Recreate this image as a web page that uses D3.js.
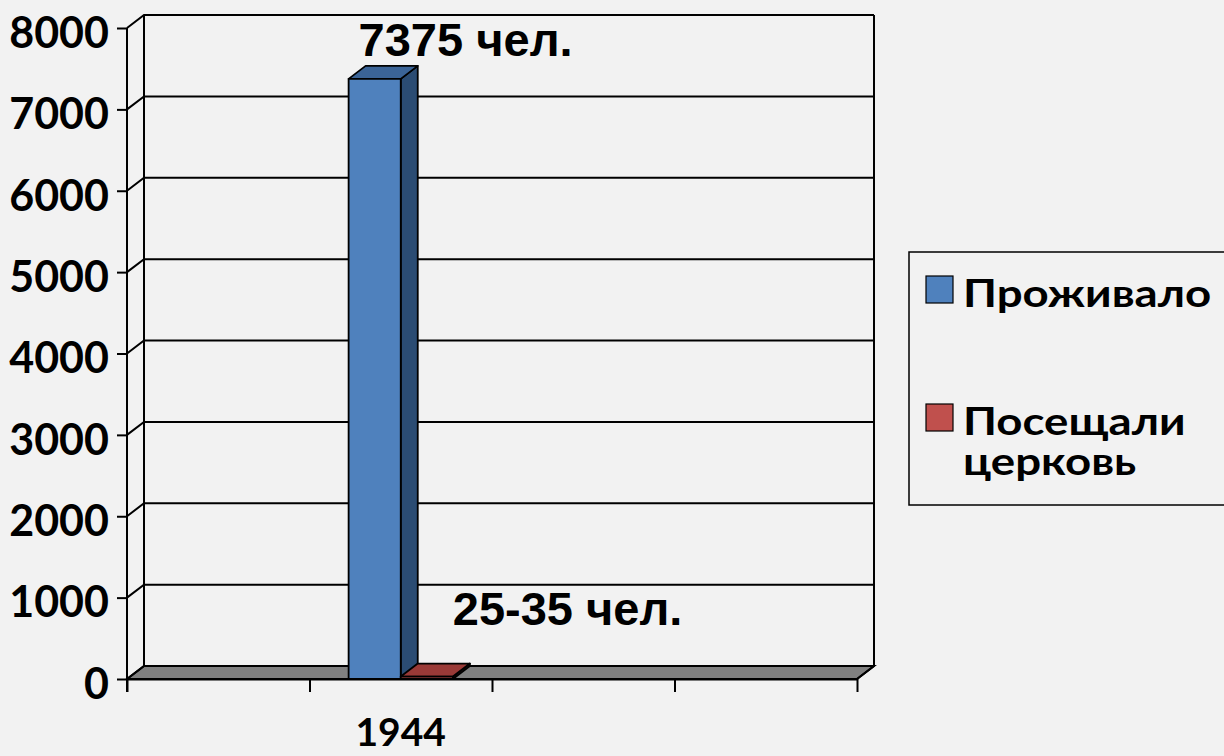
<!DOCTYPE html>
<html>
<head>
<meta charset="utf-8">
<script src="https://cdn.jsdelivr.net/npm/d3@7"></script>
<style>
  body { margin: 0; background: #f2f2f2; }
  svg { display: block; }
</style>
</head>
<body>
<svg width="1224" height="756"></svg>
<script>
// data
const categories = ["", "1944", "", ""];
const series     = ["Проживало", "Посещали церковь"];
const values     = [[null, 7375, null, null], [null, 30, null, null]];
const dataLabels = ["7375 чел.", "25-35 чел."];
const yTicks     = [0, 1000, 2000, 3000, 4000, 5000, 6000, 7000, 8000];

const colors = [
    {front: "#4f81bd", side: "#2b4c73", top: "#3b6497"},
    {front: "#c0504d", side: "#7d2f2d", top: "#9a3a37"}
];

const depthX = 17, depthY = -13;
const plotLeft = 127, plotRight = 857, plotBottom = 679, plotTop = 28;

const svg = d3.select("svg");

const y  = d3.scaleLinear().domain([0, 8000]).range([plotBottom, plotTop]);
const x  = d3.scaleBand().domain(categories.map((c, i) => i)).range([plotLeft, plotRight]);
const xs = d3.scaleBand().domain(series).range([0, x.bandwidth()]).paddingOuter(0.75);
const xEdge = d3.scaleLinear().domain([0, categories.length]).range([plotLeft, plotRight]);

// back wall + floor
const g = svg.append("g");
g.append("polygon")
    .attr("points", [[plotLeft, plotBottom], [plotLeft + depthX, plotBottom + depthY],
                     [plotRight + depthX, plotBottom + depthY], [plotRight, plotBottom]].join(" "))
    .attr("fill", "#808080").attr("stroke", "#000").attr("stroke-width", 2);

// gridlines (diagonal on the side wall, then flat on back wall)
yTicks.forEach(t => {
    const yy = y(t);
    g.append("path")
        .attr("d", `M${plotLeft},${yy}L${plotLeft + depthX},${yy + depthY}` +
                   (t > 0 ? `H${plotRight + depthX}` : ""))
        .attr("fill", "none").attr("stroke", "#000").attr("stroke-width", 2);
});
g.append("path")
    .attr("d", `M${plotLeft + depthX},${y(8000) + depthY}V${plotBottom + depthY}` +
               `M${plotRight + depthX},${y(8000) + depthY}V${plotBottom + depthY}L${plotRight},${plotBottom}`)
    .attr("fill", "none").attr("stroke", "#000").attr("stroke-width", 2);

// bars
series.forEach((s, si) => {
    values[si].forEach((v, ci) => {
        if (v == null) return;
        const x0 = x(ci) + xs(s), x1 = x0 + xs.bandwidth();
        const y0 = plotBottom, y1 = y(v);
        const c = colors[si];
        const bar = svg.append("g").attr("stroke", "#000").attr("stroke-width", 1.8)
            .attr("stroke-linejoin", "round");
        bar.append("polygon")
            .attr("points", [[x1, y1], [x1 + depthX, y1 + depthY], [x1 + depthX, y0 + depthY], [x1, y0]].join(" "))
            .attr("fill", c.side);
        bar.append("polygon")
            .attr("points", [[x0, y1], [x0 + depthX, y1 + depthY], [x1 + depthX, y1 + depthY], [x1, y1]].join(" "))
            .attr("fill", c.top);
        bar.append("rect")
            .attr("x", x0).attr("y", y1).attr("width", x1 - x0).attr("height", y0 - y1)
            .attr("fill", c.front);
    });
});

// axes
const yAxis = svg.append("g")
    .attr("transform", `translate(${plotLeft},0)`)
    .call(d3.axisLeft(y).tickValues(yTicks).tickSize(10).tickSizeOuter(0).tickFormat(d3.format("d")));
yAxis.select(".domain").attr("d", `M0,${plotTop}V${plotBottom + 13}`);
yAxis.selectAll("line, .domain").attr("stroke", "#000").attr("stroke-width", 2);
yAxis.selectAll("text")
    .attr("x", -18).attr("dy", "0.45em")
    .style("font-family", "Lato, 'Open Sans', sans-serif")
    .style("font-weight", "bold").style("font-size", "43px").attr("fill", "#000");

const xAxis = svg.append("g")
    .attr("transform", `translate(0,${plotBottom})`)
    .call(d3.axisBottom(xEdge).tickValues(d3.range(categories.length + 1)).tickSize(13)
        .tickSizeOuter(0).tickFormat(""));
xAxis.selectAll("line, .domain").attr("stroke", "#000").attr("stroke-width", 2);

svg.append("g").selectAll("text")
    .data(categories)
    .join("text")
    .attr("x", (d, i) => x(i) + x.bandwidth() / 2)
    .attr("y", 746)
    .attr("text-anchor", "middle")
    .style("font-family", "Lato, 'Open Sans', sans-serif")
    .style("font-weight", "bold").style("font-size", "39px")
    .text(d => d);

// data labels
const labelOffsets = [[10, -23], [52, -52]];
series.forEach((s, si) => {
    const ci = 1;
    const x0 = x(ci) + xs(s);
    svg.append("text")
        .attr("x", x0 + labelOffsets[si][0])
        .attr("y", y(values[si][ci]) + labelOffsets[si][1])
        .style("font-family", "'Liberation Sans', Arial, sans-serif")
        .style("font-weight", "bold").style("font-size", "47px")
        .text(dataLabels[si]);
});

// legend
const legend = svg.append("g");
legend.append("rect")
    .attr("x", 909).attr("y", 252).attr("width", 340).attr("height", 253)
    .attr("fill", "none").attr("stroke", "#000").attr("stroke-width", 1.5);
const legendRows = [
    {lines: ["Проживало"], y: 276},
    {lines: ["Посещали", "церковь"], y: 404}
];
legendRows.forEach((r, i) => {
    legend.append("rect")
        .attr("x", 926).attr("y", r.y).attr("width", 27).attr("height", 27)
        .attr("fill", colors[i].front).attr("stroke", "#000").attr("stroke-width", 1.2);
    const t = legend.append("text")
        .attr("transform", `translate(963,${r.y + 31}) scale(1.2,1)`)
        .style("font-family", "Lato, 'Open Sans', sans-serif")
        .style("font-weight", "bold").style("font-size", "38px");
    r.lines.forEach((l, li) => {
        t.append("tspan").attr("x", 0).attr("dy", li ? 40 : 0).text(l);
    });
});
</script>
</body>
</html>
